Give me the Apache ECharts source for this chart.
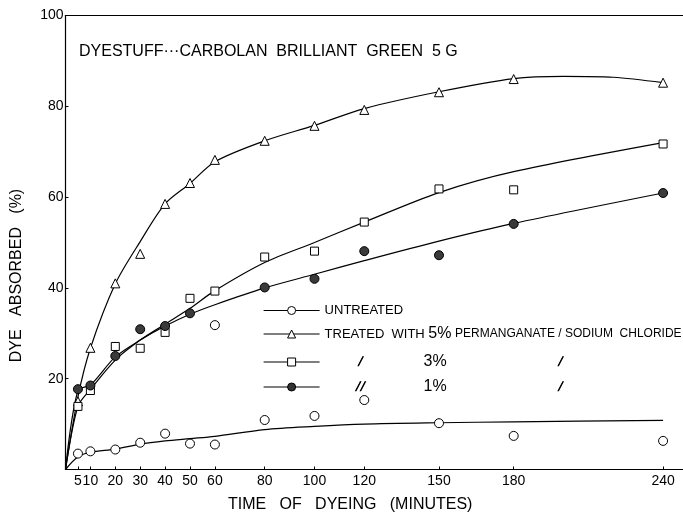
<!DOCTYPE html>
<html>
<head>
<meta charset="utf-8">
<script src="https://cdn.jsdelivr.net/npm/echarts@6/dist/echarts.min.js"></script>
<style>
html,body{margin:0;padding:0;background:#fff;}
#chart{width:683px;height:513px;}
</style>
</head>
<body>
<div id="chart"></div>
<script>
// ---- data ----
var xTickValues = [5, 10, 20, 30, 40, 50, 60, 80, 100, 120, 150, 180, 240];
var yTickValues = [0, 20, 40, 60, 80, 100];

// observed points
var timesAll = [5, 10, 20, 30, 40, 50, 60, 80, 100, 120, 150, 180, 240];
var untreatedPts = [3.5, 4.0, 4.4, 5.9, 7.9, 5.7, 5.5, 10.9, 11.8, 15.3, 10.2, 7.4, 6.3];
var pct5Pts = [15.0, 26.8, 41.0, 47.5, 58.5, 63.1, 68.2, 72.4, 75.7, 79.2, 83.1, 86.0, 85.2];
var pct3Pts = [13.9, 17.4, 27.1, 26.7, 30.2, 37.7, 39.3, 46.8, 48.1, 54.5, 61.8, 61.6, 71.7];
var times1 = [5, 10, 20, 30, 40, 50, 80, 100, 120, 150, 180, 240];
var pct1Pts = [17.7, 18.5, 25.0, 30.9, 31.6, 34.4, 40.1, 42.0, 48.1, 47.2, 54.1, 60.9];
var strayTimes = [60];
var strayPts = [31.8];

// hand-drawn fitted curves
var curveTimes = [0, 5, 10, 20, 30, 40, 50, 60, 80, 100, 120, 150, 180, 240];
var curveU = [0, 2.8, 3.8, 4.5, 5.6, 6.3, 6.8, 7.3, 8.8, 9.5, 10.0, 10.3, 10.5, 10.8];
var curveS = [0, 13.9, 17.6, 24.1, 28.5, 32.0, 35.5, 39.4, 45.6, 50.0, 54.5, 61.0, 65.6, 72.0];
var curveF = [0, 17.4, 18.6, 24.8, 28.5, 31.6, 34.2, 36.3, 40.0, 43.0, 46.0, 50.3, 54.2, 60.9];
var curveTTimes = [0, 5, 10, 20, 30, 40, 50, 60, 80, 100, 120, 150, 180, 200, 220, 240];
var curveT = [0, 16.0, 26.7, 40.9, 50.2, 58.5, 63.0, 67.8, 72.4, 75.8, 79.5, 83.2, 86.1, 86.6, 86.4, 85.2];

var names = {
  u: 'UNTREATED',
  t5: 'TREATED WITH 5% PERMANGANATE / SODIUM CHLORIDE',
  t3: '3%',
  t1: '1%'
};

function pairs(xs, ys) { return xs.map(function (x, i) { return [x, ys[i]]; }); }

var FONT = 'Liberation Sans';
var LW = 1.2;

function curveSeries(name, xs, ys, sym) {
  return {
    type: 'line', name: name, data: pairs(xs, ys),
    smooth: 0.3,
    symbol: sym, showSymbol: false, color: '#000',
    lineStyle: { color: '#000', width: LW }, z: 2, silent: true
  };
}
function pointSeries(name, xs, ys, sym, fill, size) {
  return {
    type: 'scatter', name: name, data: pairs(xs, ys),
    symbol: sym, symbolSize: size,
    itemStyle: { color: fill, borderColor: '#000', borderWidth: 1, opacity: 1 },
    z: 3, silent: true
  };
}
function legendAt(name, top, sym, fill, formatter, rich) {
  return {
    data: [{ name: name }], left: 263, top: top, orient: 'horizontal', padding: 0,
    itemWidth: 56, itemHeight: 10, selectedMode: false,
    lineStyle: { color: '#000', width: LW },
    itemStyle: { color: fill, borderColor: '#000', borderWidth: 1 },
    textStyle: { fontFamily: FONT, fontSize: 13, color: '#000', rich: rich || {} },
    formatter: formatter || null
  };
}

var dittoStyle = { width: 10, align: 'center', fontFamily: 'DejaVu Sans', fontSize: 8, color: '#000',
  textBorderColor: '#000', textBorderWidth: 0.8 };
var richBase = {
  big: { fontFamily: FONT, fontSize: 16, color: '#000' },
  sm: { fontFamily: FONT, fontSize: 12, color: '#000' },
  s1: { width: 31, fontSize: 12 },
  d: dittoStyle,
  s2: { width: 56, fontSize: 12 },
  p: { width: 27, align: 'right', fontFamily: FONT, fontSize: 16, color: '#000' },
  s3: { width: 107, fontSize: 12 }
};

var chart = echarts.init(document.getElementById('chart'), null, { renderer: 'canvas' });
chart.setOption({
  animation: false,
  backgroundColor: '#fff',
  title: [{
    text: 'DYESTUFF\u00B7\u00B7\u00B7CARBOLAN  BRILLIANT  GREEN  5 G',
    left: 79, top: 44, padding: 0,
    textStyle: { fontFamily: FONT, fontSize: 16, fontWeight: 'normal', color: '#000' }
  }, {
    text: 'TIME   OF   DYEING   (MINUTES)',
    left: 228, top: 497, padding: 0,
    textStyle: { fontFamily: FONT, fontSize: 16, fontWeight: 'normal', color: '#000' }
  }],
  grid: { left: 65.5, right: 0, top: 15.5, bottom: 43.5, containLabel: false },
  legend: [
    legendAt(names.u, 304, 'circle', '#fff'),
    legendAt(names.t5, 326, 'triangle', '#fff',
      function () { return 'TREATED  WITH {big|5%} {sm|PERMANGANATE / SODIUM  CHLORIDE}'; }, richBase),
    legendAt(names.t3, 354, 'rect', '#fff',
      function () { return '{s1| }{d|\u2571}{s2| }{p|3%}{s3| }{d|\u2571}'; }, richBase),
    legendAt(names.t1, 379, 'circle', '#333',
      function () { return '{s1| }{d|\u2571\u2571}{s2| }{p|1%}{s3| }{d|\u2571}'; }, richBase)
  ],
  xAxis: [{
    type: 'value', min: 0, max: 248, position: 'bottom',
    splitLine: { show: false },
    axisLine: { show: true, lineStyle: { color: '#000', width: LW } },
    axisTick: { show: true, inside: true, length: 3, customValues: xTickValues, lineStyle: { color: '#000' } },
    axisLabel: { show: true, customValues: xTickValues, margin: 5, fontFamily: FONT, fontSize: 14, color: '#000' }
  }, {
    type: 'value', min: 0, max: 248, position: 'top',
    splitLine: { show: false },
    axisLine: { show: true, lineStyle: { color: '#000', width: LW } },
    axisTick: { show: false }, axisLabel: { show: false }
  }],
  yAxis: {
    type: 'value', min: 0, max: 100, interval: 20,
    splitLine: { show: false },
    name: 'DYE   ABSORBED   (%)', nameLocation: 'middle', nameGap: 41, nameRotate: 90,
    nameTextStyle: { fontFamily: FONT, fontSize: 16, color: '#000', padding: [0, 66, 0, 0] },
    axisLine: { show: true, lineStyle: { color: '#000', width: LW } },
    axisTick: { show: true, inside: true, length: 3, lineStyle: { color: '#000' } },
    axisLabel: {
      margin: 2, fontFamily: FONT, fontSize: 14, color: '#000',
      formatter: function (v) { return v === 0 ? '' : String(v); }
    }
  },
  series: [
    curveSeries(names.u, curveTimes, curveU, 'circle'),
    curveSeries(names.t5, curveTTimes, curveT, 'triangle'),
    curveSeries(names.t3, curveTimes, curveS, 'rect'),
    curveSeries(names.t1, curveTimes, curveF, 'circle'),
    pointSeries('untreated points', timesAll, untreatedPts, 'circle', '#fff', 9),
    pointSeries('5% points', timesAll, pct5Pts, 'triangle', '#fff', 9),
    pointSeries('3% points', timesAll, pct3Pts, 'rect', '#fff', 8),
    pointSeries('1% points', times1, pct1Pts, 'circle', '#3a3a3a', 9),
    pointSeries('open point', strayTimes, strayPts, 'circle', '#fff', 9)
  ]
});
</script>
</body>
</html>
